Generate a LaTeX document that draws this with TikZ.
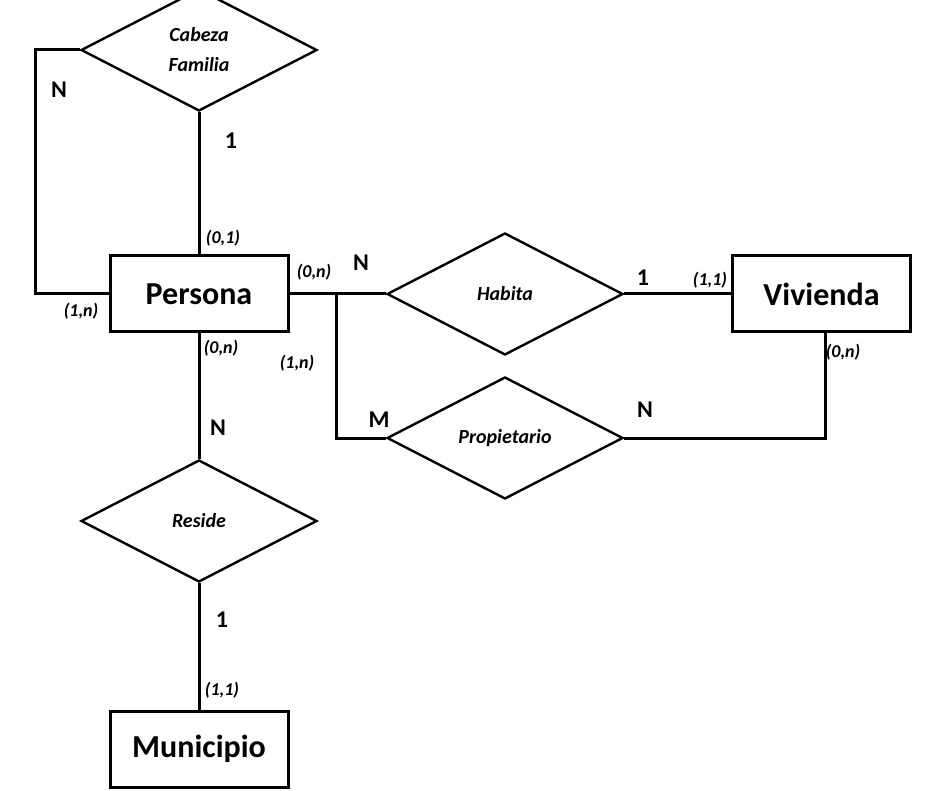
\documentclass[tikz,border=0pt]{standalone}
\usepackage{fontspec}
\setmainfont{Carlito}
\usetikzlibrary{shapes.geometric}
\tikzset{
  entity/.style={draw, line width=3pt, minimum width=178pt, minimum height=76pt, inner sep=0pt, font=\fontsize{32}{35}\selectfont\bfseries},
  rel/.style={draw, diamond, aspect=2, line width=2.4pt, minimum width=236pt, minimum height=122pt, inner sep=0pt, font=\fontsize{20}{23}\selectfont\bfseries\itshape, align=center},
  conn/.style={line width=3pt},
  card/.style={font=\fontsize{24}{26}\selectfont\bfseries, inner sep=0pt},
  cnum/.style={font=\fontsize{18}{20}\selectfont\bfseries\itshape, inner sep=0pt}
}
\begin{document}
\begin{tikzpicture}[x=1pt,y=-1pt]
\useasboundingbox (0,0) rectangle (926,791);
\clip (0,0) rectangle (926,791);
% entities
\node[entity] (persona) at (199,294) {Persona};
\node[entity] (vivienda) at (821.5,294) {Vivienda};
\node[entity] (municipio) at (199,749) {Municipio};
% relationships
\node[rel] (cf) at (199,50) {Cabeza\\[7pt]Familia};
\node[rel] (habita) at (505,294) {Habita};
\node[rel] (prop) at (505,438) {Propietario};
\node[rel] (reside) at (199,521) {Reside};
% connectors
\draw[conn] (cf.west) -- ++(-44,0) |- (persona.west);
\draw[conn] (cf.south) -- (persona.north);
\coordinate (j) at (336,294);
\draw[conn] (persona.east) -- (habita.west);
\draw[conn] (j) |- (prop.west);
\draw[conn] (habita.east) -- (vivienda.west);
\coordinate (vb) at (825,332);
\draw[conn] (vb) |- (prop.east);
\draw[conn] (persona.south) -- (reside.north);
\draw[conn] (reside.south) -- (municipio.north);
% labels
\node[card] (l1) at (59,90) {N};
\node[card] (l2) at (231,141) {1};
\node[cnum] (l3) at (223,238) {(0,1)};
\node[cnum] (l4) at (81,311) {(1,n)};
\node[cnum] (l5) at (314,272) {(0,n)};
\node[card] (l6) at (361,263) {N};
\node[cnum] (l7) at (297,363) {(1,n)};
\node[card] (l8) at (379,420) {M};
\node[card] (l9) at (643,278) {1};
\node[cnum] (l10) at (710,280) {(1,1)};
\node[cnum] (l11) at (843,352) {(0,n)};
\node[card] (l12) at (645,410) {N};
\node[cnum] (l13) at (221,348) {(0,n)};
\node[card] (l14) at (218,428) {N};
\node[card] (l15) at (222,620) {1};
\node[cnum] (l16) at (222,690) {(1,1)};
\end{tikzpicture}
\end{document}
